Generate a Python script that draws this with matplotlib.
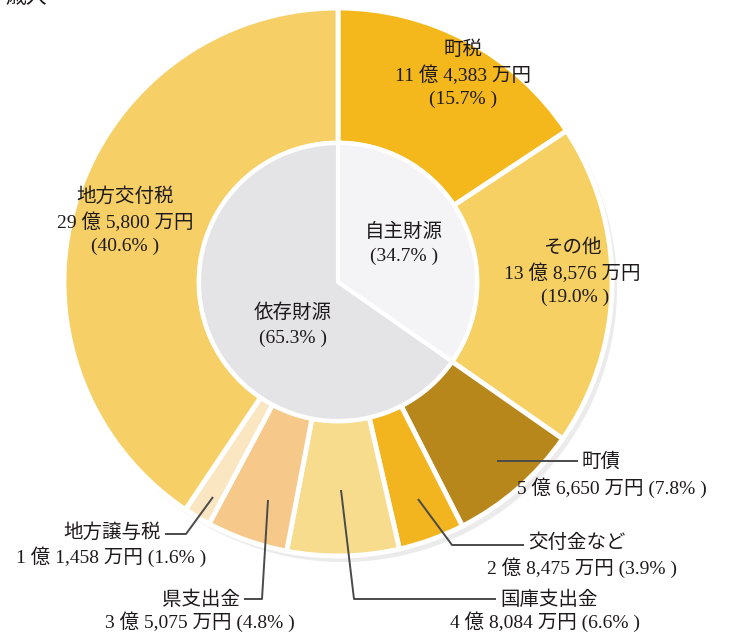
import matplotlib
matplotlib.use("Agg")
import matplotlib.pyplot as plt
from matplotlib.patches import Circle

# ---- data ----
outer_labels = ["町税", "その他", "町債", "交付金など", "国庫支出金", "県支出金", "地方譲与税", "地方交付税"]
outer_amounts = ["11 億 4,383 万円", "13 億 8,576 万円", "5 億 6,650 万円", "2 億 8,475 万円",
                 "4 億 8,084 万円", "3 億 5,075 万円", "1 億 1,458 万円", "29 億 5,800 万円"]
outer_pcts = [15.7, 19.0, 7.8, 3.9, 6.6, 4.8, 1.6, 40.6]
outer_colors = ["#F4B81C", "#F6D062", "#B8871C", "#F2B520", "#F7DC8E", "#F6C98A", "#FAE6C0", "#F6D066"]

inner_labels = ["自主財源", "依存財源"]
inner_pcts = [34.7, 65.3]
inner_colors = ["#F4F4F6", "#E4E4E7"]

W, H = 729, 637
fig = plt.figure(figsize=(W / 100, H / 100), dpi=100)
ax = fig.add_axes([0, 0, 1, 1])

def py(y):
    return H - y

cx, cy = 338, py(282)
R_out, R_in = 274, 139

# soft shadow
for k, a in enumerate([0.03, 0.04, 0.04, 0.05]):
    ax.add_patch(Circle((cx + 3 + k, cy - 4 - k), R_out + 2 - k, color="#808088", alpha=a, lw=0, zorder=0))

ax.pie(outer_pcts, colors=outer_colors, startangle=90, counterclock=False,
       radius=R_out, center=(cx, cy), frame=True,
       wedgeprops=dict(width=R_out - R_in, edgecolor="white", linewidth=3.5))
ax.pie(inner_pcts, colors=inner_colors, startangle=90, counterclock=False,
       radius=R_in, center=(cx, cy), frame=True,
       wedgeprops=dict(edgecolor="white", linewidth=3))
ax.set_xlim(0, W)
ax.set_ylim(0, H)
ax.set_aspect("equal")
ax.axis("off")

fam = ["Liberation Serif", "Noto Sans CJK JP"]
fs = 14
tc = "#1E1A1B"

def txt(x, y, s, ha="center"):
    ax.text(x, py(y), s, ha=ha, va="center", fontsize=fs, family=fam, color=tc, zorder=10)

def pct(p):
    return f"({p:.1f}% )"

# title (cropped at the top edge, as in the original)
ax.text(26, py(-2), "歳入", ha="center", va="center", fontsize=15, family=fam, color=tc, clip_on=False)

# in-ring labels
txt(463, 50, outer_labels[0]); txt(463, 75, outer_amounts[0]); txt(463, 99, pct(outer_pcts[0]))
txt(572, 248, outer_labels[1]); txt(572, 273, outer_amounts[1]); txt(575, 297, pct(outer_pcts[1]))
txt(125, 197, outer_labels[7]); txt(125, 222, outer_amounts[7]); txt(125, 246, pct(outer_pcts[7]))
txt(404, 232, inner_labels[0]); txt(404, 256, pct(inner_pcts[0]))
txt(293, 313, inner_labels[1]); txt(293, 338, pct(inner_pcts[1]))

lc = "#4A4A4A"
def line(pts):
    xs = [p[0] for p in pts]
    ys = [py(p[1]) for p in pts]
    ax.plot(xs, ys, color=lc, lw=1.4, zorder=9, solid_capstyle="butt")

# 町債
line([(497, 461), (578, 461)])
txt(582, 462, outer_labels[2], ha="left")
txt(612, 488, f"{outer_amounts[2]} {pct(outer_pcts[2])}")
# 交付金など
line([(418, 499), (452, 545), (524, 545)])
txt(528, 543, outer_labels[3], ha="left")
txt(582, 568, f"{outer_amounts[3]} {pct(outer_pcts[3])}")
# 国庫支出金
line([(341, 490), (354, 599), (496, 599)])
txt(500, 600, outer_labels[4], ha="left")
txt(545, 622, f"{outer_amounts[4]} {pct(outer_pcts[4])}")
# 県支出金
line([(268, 500), (262, 599), (244, 599)])
txt(240, 600, outer_labels[5], ha="right")
txt(200, 622, f"{outer_amounts[5]} {pct(outer_pcts[5])}")
# 地方譲与税
line([(213, 497), (186, 534), (165, 534)])
txt(161, 533, outer_labels[6], ha="right")
txt(111, 557, f"{outer_amounts[6]} {pct(outer_pcts[6])}")

fig.savefig("out.png", dpi=100)
